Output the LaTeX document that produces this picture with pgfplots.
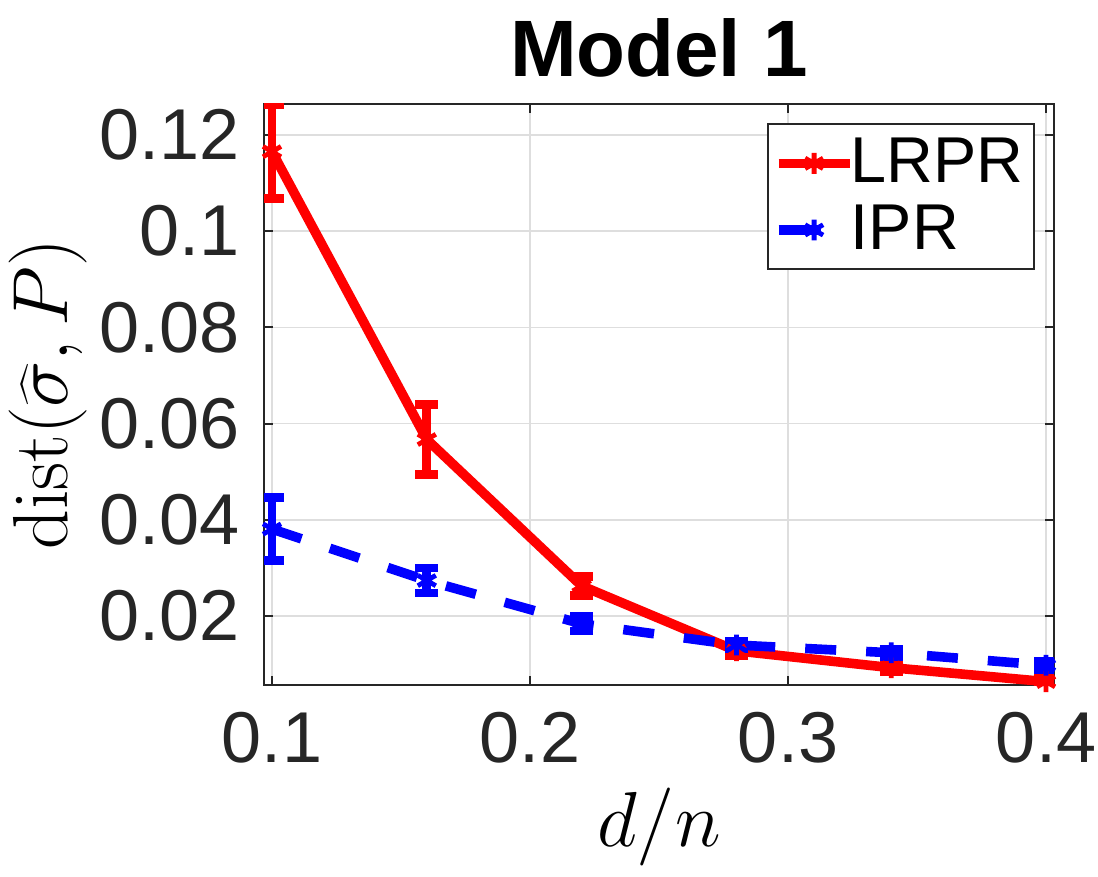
\RequirePackage{fix-cm}
\documentclass[border=0pt]{standalone}
\usepackage[no-math]{fontspec}
\newfontfamily\hv{Liberation Sans}
\usepackage{pgfplots}
\pgfplotsset{compat=1.18}
\definecolor{axgray}{HTML}{262626}
\definecolor{gridgray}{HTML}{DEDEDE}
\pgfplotsset{iprlegend/.style={legend image code/.code={\draw[mark repeat=2,mark phase=2,##1,solid] plot coordinates {(0pt,0pt) (8.9pt,0pt) (10.6pt,0pt)}; \path (17.8pt,0pt);}}}
\pgfplotstableread{
x y e
0.10 0.1165 0.0098
0.16 0.0567 0.0072
0.22 0.0263 0.0020
0.28 0.0128 0.0010
0.34 0.0093 0.0008
0.40 0.0064 0.0006
}\lrpr
\pgfplotstableread{
x y e
0.10 0.0381 0.0065
0.16 0.0274 0.0026
0.22 0.0184 0.0015
0.28 0.0140 0.0008
0.34 0.0124 0.0008
0.40 0.0098 0.0009
}\ipr
\begin{document}
\begin{tikzpicture}
\begin{axis}[
  name=ax,
  scale only axis,
  width=197.5pt, height=145.25pt,
  xmin=0.0969, xmax=0.4031,
  ymin=0.0057, ymax=0.1264,
  xtick={0.1,0.2,0.3,0.4},
  xticklabels={0.1,0.2,0.3,0.4},
  ytick={0.02,0.04,0.06,0.08,0.1,0.12},
  yticklabels={0.02,0.04,0.06,0.08,0.1,0.12},
  tick align=inside,
  major tick length=2.25pt,
  tick style={color=axgray, line width=0.45pt},
  axis line style={color=axgray, line width=0.45pt},
  grid=major,
  major grid style={color=gridgray, line width=0.4pt},
  ticklabel style={font=\hv\fontsize{18}{20}\selectfont, text=axgray},
  xticklabel style={yshift=-3.2pt},
  yticklabel style={xshift=-2.5pt},
  every axis title shift=0pt,
  title={\hv\bfseries\fontsize{20}{22}\selectfont Model 1},
  title style={at={(axis description cs:0.5,1)}, anchor=base, yshift=6.75pt},
  xlabel={$d/n$},
  ylabel={$\mathrm{dist}(\widehat{\sigma},P)$},
  label style={font=\fontsize{19.5}{22}\selectfont},
  xlabel style={at={(axis description cs:0.5,0)}, anchor=center, yshift=-35.5pt},
  ylabel style={at={(axis description cs:0,0.5)}, anchor=center, rotate=0, yshift=54pt},
  legend style={at={(rel axis cs:0.976,0.967)}, anchor=north east,
    draw=axgray, line width=0.45pt, fill=white,
    font=\hv\fontsize{16.2}{18}\selectfont,
    inner xsep=1.5pt, inner ysep=2pt, row sep=1pt,
    nodes={inner ysep=1.5pt, inner xsep=0pt},
    /tikz/every odd column/.append style={column sep=-0.9pt}},
  legend cell align=left,
  legend image code/.code={\draw[mark repeat=2,mark phase=2,#1] plot coordinates {(0pt,0pt) (8.9pt,0pt) (17.8pt,0pt)};},
]
\addplot[red, line width=2.4pt, mark=asterisk, mark size=2.6pt, mark options={solid, line width=1.2pt},
  error bars/.cd, y dir=both, y explicit,
  error bar style={line width=2.2pt, solid},
  error mark options={rotate=90, line width=2.2pt, mark size=2.9pt, solid}]
  table[x=x, y=y, y error=e] {\lrpr};
\addlegendentry{LRPR\hspace*{1.1pt}}
\addplot[blue, line width=2.4pt, dash pattern=on 7.75pt off 7.5pt, mark=asterisk, mark size=2.6pt, mark options={solid, line width=1.2pt},
  iprlegend,
  error bars/.cd, y dir=both, y explicit,
  error bar style={line width=2.2pt, solid},
  error mark options={rotate=90, line width=2.2pt, mark size=2.9pt, solid}]
  table[x=x, y=y, y error=e] {\ipr};
\addlegendentry{IPR}
\end{axis}
\pgfresetboundingbox
\useasboundingbox (ax.south west) ++(-66pt,-47.75pt) rectangle ++(274.5pt,219pt);
\end{tikzpicture}
\end{document}
